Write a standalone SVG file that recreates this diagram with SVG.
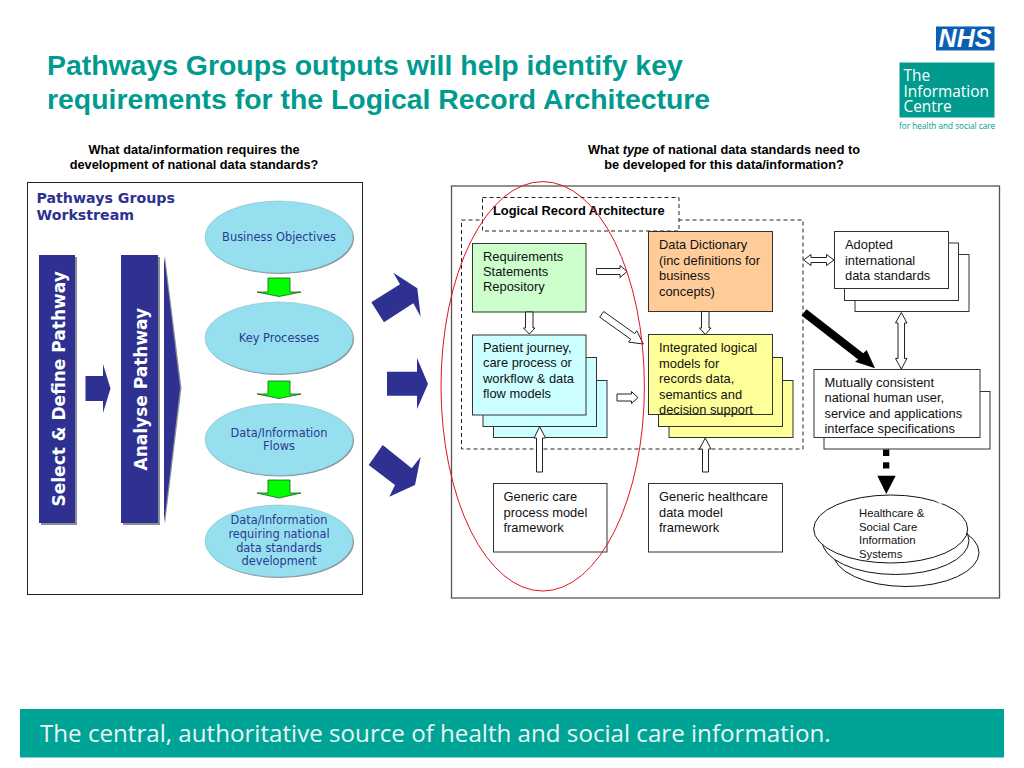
<svg xmlns="http://www.w3.org/2000/svg" width="1024" height="768" viewBox="0 0 1024 768">
<style>
.sub{font:bold 12.75px "Liberation Sans",Arial,sans-serif;fill:#000;text-anchor:middle}
.t{font:12.9px "Liberation Sans",Arial,sans-serif;fill:#111}
.v{font:11.4px "DejaVu Sans",Verdana,sans-serif;fill:#2b3a92;text-anchor:middle}
.vb{font:bold 14.2px "DejaVu Sans",Verdana,sans-serif;fill:#2e3192}
.bar{font:bold 17px "DejaVu Sans",Verdana,sans-serif;fill:#fff}
.box{stroke:#333;stroke-width:1}
.w{fill:#fff}
.bl{fill:#ccffff}
.ye{fill:#ffff99}
.ell{fill:#96dfee;stroke:#7fb8c4;stroke-width:.5}
.sh{fill:#8a8f96}
.navy{fill:#2e3192}
.ga{fill:#00ff00;stroke:#1c5c1c;stroke-width:.8}
.ba{fill:#fff;stroke:#222;stroke-width:1}
.dash{fill:none;stroke:#222;stroke-width:1;stroke-dasharray:4 3}
</style>
<rect width="1024" height="768" fill="#fff"/>
<g id="title" font-family="'Liberation Sans',Arial,sans-serif" font-weight="bold" font-size="28.400" fill="#009b8e">
<text x="47" y="75">Pathways Groups outputs will help identify key</text>
<text x="47" y="109">requirements for the Logical Record Architecture</text>
</g>
<g id="logo">
<rect x="936" y="26.500" width="58.500" height="24" fill="#0a5fb4"/>
<text x="965" y="47" font-family="'Liberation Sans',Arial,sans-serif" font-weight="bold" font-style="italic" font-size="25" fill="#fff" text-anchor="middle">NHS</text>
<rect x="899.500" y="62.500" width="95" height="55" fill="#009b8e"/>
<g font-family="'Open Sans',sans-serif" font-size="15.400" fill="#fff">
<text x="903.500" y="81">The</text>
<text x="903.500" y="96.500">Information</text>
<text x="903.500" y="112">Centre</text>
</g>
<text x="899" y="128.500" font-family="'Open Sans',sans-serif" font-size="8.200" fill="#009b8e">for health and social care</text>
</g>
<g id="headings">
<text class="sub" x="194" y="154">What data/information requires the</text>
<text class="sub" x="194" y="169">development of national data standards?</text>
<text class="sub" x="724" y="154">What <tspan font-style="italic">type</tspan> of national data standards need to</text>
<text class="sub" x="724" y="169">be developed for this data/information?</text>
</g>
<g id="workstream">
<rect x="27.500" y="182.500" width="335" height="412" fill="#fff" stroke="#222"/>
<text class="vb" x="36.500" y="203">Pathways Groups</text>
<text class="vb" x="36.500" y="220">Workstream</text>
</g>
<g id="select-define">
<rect class="sh" x="41" y="257" width="36" height="268"/>
<rect class="navy" x="39" y="255" width="36" height="268"/>
<text class="bar" transform="translate(64.500 506.500) rotate(-90)">Select &amp; Define Pathway</text>
</g>
<g id="analyse">
<rect class="sh" x="123" y="257" width="37" height="268"/>
<rect class="navy" x="121" y="255" width="37" height="268"/>
<polygon class="sh" points="165,256 181.500,388 165,524"/>
<polygon class="navy" points="164,256 180,388 164,523"/>
<text class="bar" transform="translate(146.500 470.500) rotate(-90)">Analyse Pathway</text>
</g>
<g id="business-objectives">
<ellipse class="sh" cx="280" cy="238" rx="74" ry="36"/>
<ellipse class="ell" cx="279" cy="237" rx="74" ry="36"/>
<text class="v" x="279" y="241">Business Objectives</text>
</g>
<g id="key-processes">
<ellipse class="sh" cx="280" cy="339" rx="74" ry="36"/>
<ellipse class="ell" cx="279" cy="338" rx="74" ry="36"/>
<text class="v" x="279" y="342">Key Processes</text>
</g>
<g id="data-flows">
<ellipse class="sh" cx="280" cy="440.500" rx="74" ry="36"/>
<ellipse class="ell" cx="279" cy="439.500" rx="74" ry="36"/>
<text class="v" x="279" y="437">Data/Information</text>
<text class="v" x="279" y="450">Flows</text>
</g>
<g id="data-requiring">
<ellipse class="sh" cx="280" cy="542" rx="74" ry="36"/>
<ellipse class="ell" cx="279" cy="541" rx="74" ry="36"/>
<text class="v" x="279" y="524">Data/Information</text>
<text class="v" x="279" y="538">requiring national</text>
<text class="v" x="279" y="551.500">data standards</text>
<text class="v" x="279" y="565">development</text>
</g>
<g id="architecture-panel">
<rect x="451.500" y="186" width="548" height="412" fill="#fff" stroke="#555" stroke-width="1.300"/>
<rect class="dash" x="461.500" y="220" width="341.500" height="229"/>
</g>
<g id="logical-record-architecture">
<rect x="482.500" y="197.500" width="196.500" height="33.500" fill="#fff" stroke="#222" stroke-dasharray="4 3"/>
<text x="493" y="214.500" font-family="'Liberation Sans',Arial,sans-serif" font-weight="bold" font-size="12.850" fill="#000">Logical Record Architecture</text>
</g>
<g id="requirements">
<rect class="box" x="472.500" y="243.500" width="113.500" height="68.500" fill="#ccffcc"/>
<text class="t" x="483" y="261">Requirements</text>
<text class="t" x="483" y="276">Statements</text>
<text class="t" x="483" y="291">Repository</text>
</g>
<g id="patient-journey">
<rect class="box bl" x="493.500" y="380.500" width="113.500" height="57"/>
<rect class="box bl" x="483" y="357.500" width="113.500" height="69"/>
<rect class="box bl" x="472.500" y="335" width="113.500" height="80"/>
<text class="t" x="483" y="352">Patient journey,</text>
<text class="t" x="483" y="367.300">care process or</text>
<text class="t" x="483" y="382.500">workflow &amp; data</text>
<text class="t" x="483" y="398">flow models</text>
</g>
<g id="data-dictionary">
<rect class="box" x="648.500" y="231.500" width="124" height="80" fill="#ffcc99"/>
<text class="t" x="659" y="249">Data Dictionary</text>
<text class="t" x="659" y="264.500">(inc definitions for</text>
<text class="t" x="659" y="280">business</text>
<text class="t" x="659" y="295.500">concepts)</text>
</g>
<g id="integrated-models">
<rect class="box ye" x="669" y="380.500" width="124" height="57"/>
<rect class="box ye" x="658.500" y="357.500" width="124" height="69"/>
<rect class="box ye" x="648.500" y="334.500" width="124" height="80"/>
<text class="t" x="659" y="352">Integrated logical</text>
<text class="t" x="659" y="367.500">models for</text>
<text class="t" x="659" y="383">records data,</text>
<text class="t" x="659" y="398.500">semantics and</text>
<text class="t" x="659" y="414">decision support</text>
</g>
<g id="generic-care">
<rect class="box w" x="493.500" y="483.500" width="113.500" height="68.500"/>
<text class="t" x="503.500" y="501">Generic care</text>
<text class="t" x="503.500" y="516.500">process model</text>
<text class="t" x="503.500" y="531.500">framework</text>
</g>
<g id="generic-healthcare">
<rect class="box w" x="648.500" y="483.500" width="134" height="68.500"/>
<text class="t" x="659" y="501">Generic healthcare</text>
<text class="t" x="659" y="516.500">data model</text>
<text class="t" x="659" y="531.500">framework</text>
</g>
<g id="adopted-standards">
<rect class="box w" x="855" y="254.500" width="114" height="57"/>
<rect class="box w" x="844.500" y="243" width="114" height="57.500"/>
<rect class="box w" x="834.500" y="231.500" width="114" height="57"/>
<text class="t" x="845" y="249">Adopted</text>
<text class="t" x="845" y="264.500">international</text>
<text class="t" x="845" y="280">data standards</text>
</g>
<g id="interface-specifications">
<rect class="box w" x="824" y="391.500" width="166" height="57.500"/>
<rect class="box w" x="814" y="369.500" width="166" height="68"/>
<text class="t" x="824.500" y="386.700">Mutually consistent</text>
<text class="t" x="824.500" y="402">national human user,</text>
<text class="t" x="824.500" y="417.500">service and applications</text>
<text class="t" x="824.500" y="432.700">interface specifications</text>
</g>
<g id="information-systems">
<ellipse cx="906" cy="552.500" rx="73" ry="34" fill="#fff" stroke="#111"/>
<ellipse cx="895.500" cy="540.500" rx="73.500" ry="34" fill="#fff" stroke="#111"/>
<ellipse cx="890.700" cy="529" rx="77" ry="34" fill="#fff" stroke="#111"/>
<line x1="935" y1="498.500" x2="942" y2="503" stroke="#fff" stroke-width="3"/>
<g font-family="'Liberation Sans',Arial,sans-serif" font-size="11.300" fill="#111">
<text x="859" y="517">Healthcare &amp;</text>
<text x="859" y="530.500">Social Care</text>
<text x="859" y="544">Information</text>
<text x="859" y="558">Systems</text>
</g>
</g>
<g id="connectors">
<polygon class="navy" points="85.500,376 103,376 103,364 110.500,388.500 103,413 103,401 85.500,401"/>
<polygon class="ga" points="268,278 290,278 290,292 301,292 279,296.500 257,292 268,292"/>
<polygon class="ga" points="268,381 290,381 290,394 301,394 279,398.500 257,394 268,394"/>
<polygon class="ga" points="268,480 290,480 290,493 301,493 279,498 257,493 268,493"/>
<polygon class="navy" points="371.300,302.300 400,284.300 393.300,272.700 417.300,288.300 420.700,316.700 413.300,303.300 384,322.300"/>
<polygon class="navy" points="387,371.700 417,371.700 417,358 428,384 417,409 417,395.700 387,395.700"/>
<polygon class="navy" points="382.700,445 368.700,465 395,485 389.300,496.700 415,485 420.700,456.700 411.700,468.300"/>
<polygon class="ba" points="596.500,268.500 620,268.500 620,265.500 627,271.500 620,277.500 620,274.500 596.500,274.500"/>
<polygon class="ba" points="525.500,312 533,312 533,328 535,328 529.300,334 523.500,328 525.500,328"/>
<polygon class="ba" points="603.700,311.500 634.700,333.600 636.800,330.700 643.300,344 628.600,342.100 630.700,339.200 599.700,317.100"/>
<polygon class="ba" points="617,394 631.500,394 631.500,391.500 638,397.700 631.500,403.500 631.500,401 617,401"/>
<polygon class="ba" points="536.500,472 542.500,472 542.500,438 545.500,438 539.700,426.700 534,438 536.500,438"/>
<polygon class="ba" points="701.500,311.500 709,311.500 709,328 711,328 705.300,334.500 699.500,328 701.500,328"/>
<polygon class="ba" points="702.500,472 708.500,472 708.500,449 711,449 705.300,438 699.500,449 702.500,449"/>
<polygon class="ba" points="803.500,260 811,254.500 811,257.500 826.500,257.500 826.500,254.500 834,260 826.500,265.500 826.500,262.500 811,262.500 811,265.500"/>
<polygon class="ba" points="901.300,312.500 907,323 904.500,323 904.500,358.500 907,358.500 901.300,369 895.500,358.500 898,358.500 898,323 895.500,323"/>
<polygon points="806.500,309.200 863.200,353.200 866.700,350 875,368.300 855,361.700 858.200,359.400 801.500,315.400" fill="#000"/>
<rect x="883" y="449.500" width="6.300" height="6.500" fill="#000"/>
<rect x="883" y="462.300" width="6.300" height="6.200" fill="#000"/>
<polygon points="877.300,475.700 895.700,475.700 886.300,494" fill="#000"/>
</g>
<ellipse id="highlight" cx="542.700" cy="386.300" rx="101.700" ry="204.700" fill="none" stroke="#e2111f" stroke-width="1"/>
<g id="footer">
<rect x="20" y="709" width="984" height="48.500" fill="#00a497"/>
<text x="40" y="742" font-family="'Open Sans',sans-serif" font-size="24.150" fill="#e8f6f4">The central, authoritative source of health and social care information.</text>
</g>
</svg>
